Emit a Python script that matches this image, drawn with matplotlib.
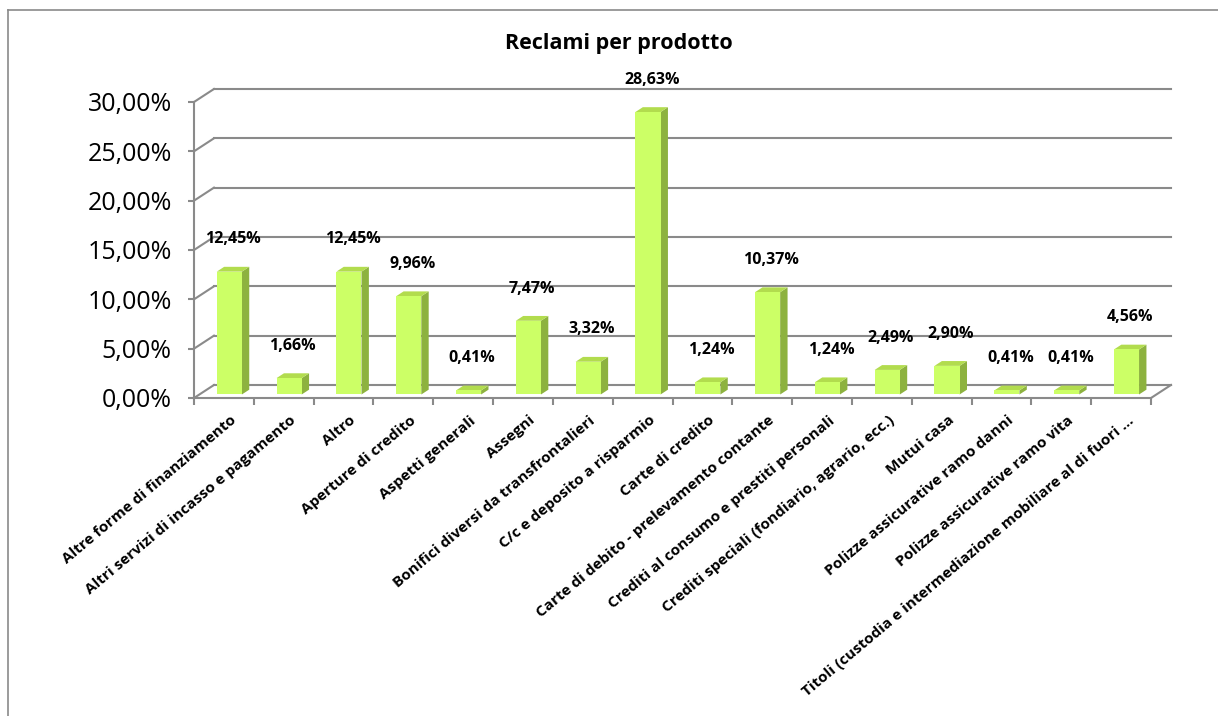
import matplotlib
matplotlib.use('Agg')
import matplotlib.pyplot as plt
from matplotlib.patches import Polygon
from matplotlib.lines import Line2D
from matplotlib.transforms import ScaledTranslation

plt.rcParams['font.family'] = ['Open Sans', 'DejaVu Sans']

# dati
categorie = [
    'Altre forme di finanziamento',
    'Altri servizi di incasso e pagamento',
    'Altro',
    'Aperture di credito',
    'Aspetti generali',
    'Assegni',
    'Bonifici diversi da transfrontalieri',
    'C/c e deposito a risparmio',
    'Carte di credito',
    'Carte di debito - prelevamento contante',
    'Crediti al consumo e prestiti personali',
    'Crediti speciali (fondiario, agrario, ecc.)',
    'Mutui casa',
    'Polizze assicurative ramo danni',
    'Polizze assicurative ramo vita',
    'Titoli (custodia e intermediazione mobiliare al di fuori ...',
]
valori = [12.45, 1.66, 12.45, 9.96, 0.41, 7.47, 3.32, 28.63,
          1.24, 10.37, 1.24, 2.49, 2.90, 0.41, 0.41, 4.56]
y_ticks = [0, 5, 10, 15, 20, 25, 30]
titolo = 'Reclami per prodotto'

# stile "3D" finto
GRID = '#8a8a8a'
FRONT = '#ccff66'
TOP = '#b2dc4e'
SIDE = '#8db23f'
DX, DY = 0.334, 1.32      # profondita parete di fondo (unita dati)
W = 0.42                  # larghezza barra
F = 0.27                  # posizione della barra in profondita
G = 0.37                  # spessore della barra in profondita

W_PX, H_PX = 1218, 716
fig = plt.figure(figsize=(W_PX / 100, H_PX / 100), dpi=100)
ax = fig.add_axes([194 / W_PX, (H_PX - 398) / H_PX, 957 / W_PX, 296 / H_PX])
n = len(valori)
ax.set_xlim(-0.5, n - 0.5)
ax.set_ylim(0, 30)

# griglia sulla parete di fondo
for t in y_ticks:
    ax.plot([-0.5, -0.5 + DX], [t, t + DY], color=GRID, lw=1.5, clip_on=False, zorder=1)
    ax.plot([-0.5 + DX, n - 0.5 + DX], [t + DY, t + DY], color=GRID, lw=1.5,
            clip_on=False, zorder=1)
ax.plot([n - 0.5, n - 0.5 + DX], [0, DY], color=GRID, lw=1.5, clip_on=False, zorder=1)

# barre
gx, gy = G * DX, G * DY
b = F * DY
for i, v in enumerate(valori):
    x0 = i - W / 2 + F * DX
    x1 = x0 + W
    front = [(x0, b), (x1, b), (x1, b + v), (x0, b + v)]
    side = [(x1, b), (x1 + gx, b + gy), (x1 + gx, b + v + gy), (x1, b + v)]
    top = [(x0, b + v), (x1, b + v), (x1 + gx, b + v + gy), (x0 + gx, b + v + gy)]
    for pts, c in ((side, SIDE), (top, TOP), (front, FRONT)):
        ax.add_patch(Polygon(pts, closed=True, facecolor=c, edgecolor='none',
                             zorder=3, clip_on=False))
    ax.annotate(f'{v:.2f}%'.replace('.', ','), xy=(x0 + (W + gx) / 2, b + v + gy),
                xytext=(0, 14), textcoords='offset points', ha='center', va='bottom',
                fontsize=11.5, fontweight='bold', color='black', zorder=5,
                annotation_clip=False)

# assi
for s in ('top', 'right'):
    ax.spines[s].set_visible(False)
for s in ('left', 'bottom'):
    ax.spines[s].set_color(GRID)
    ax.spines[s].set_linewidth(1.5)
ax.set_yticks(y_ticks)
ax.set_yticklabels([f'{t:.2f}%'.replace('.', ',') for t in y_ticks], fontsize=18)
ax.tick_params(axis='y', length=4, width=1.5, color=GRID, pad=12)

ax.set_xticks([i - 0.5 for i in range(n + 1)])
ax.set_xticklabels([])
ax.tick_params(axis='x', which='major', length=5, width=1.5, color=GRID)
ax.set_xticks(range(n), minor=True)
ax.set_xticklabels(categorie, minor=True, rotation=40, ha='right',
                   rotation_mode='anchor', fontsize=11, fontweight='bold')
ax.tick_params(axis='x', which='minor', length=0, pad=11)
off = ScaledTranslation(6 / 100, 0, fig.dpi_scale_trans)
for lab in ax.get_xticklabels(minor=True):
    lab.set_transform(lab.get_transform() + off)

ax.patch.set_alpha(0)

fig.text(0.508, 1 - 44 / H_PX, titolo, ha='center', va='center',
         fontsize=15.5, fontweight='bold')

# cornice del grafico
fig.add_artist(Line2D([8 / W_PX, 8 / W_PX], [0, 1 - 10 / H_PX], color=GRID, lw=1.2,
                      transform=fig.transFigure))
fig.add_artist(Line2D([8 / W_PX, 1], [1 - 10 / H_PX, 1 - 10 / H_PX], color=GRID, lw=1.2,
                      transform=fig.transFigure))

fig.savefig('out.png', dpi=100)
